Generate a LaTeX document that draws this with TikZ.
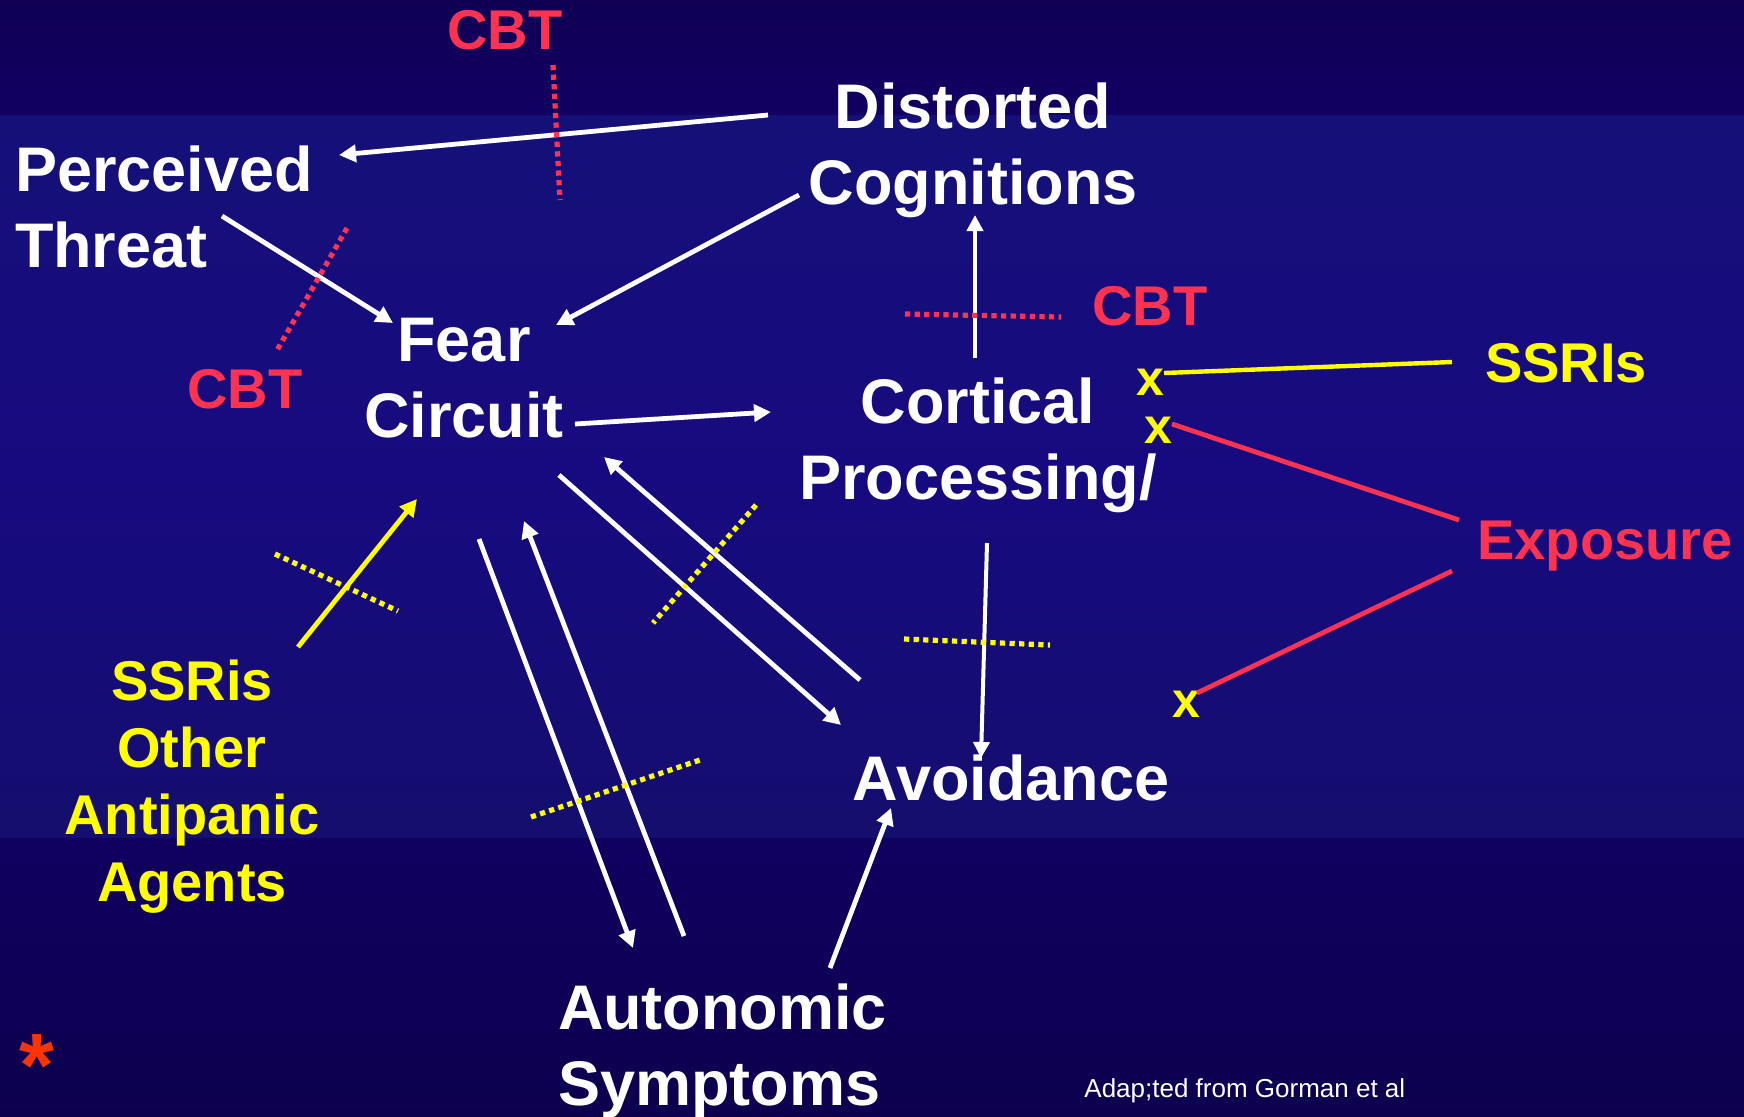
\documentclass[tikz,border=0pt]{standalone}
\usepackage{fontspec}
\setmainfont{Liberation Sans}
\usetikzlibrary{arrows.meta,calc}
\definecolor{bgA}{RGB}{15,0,84}
\definecolor{bgB}{RGB}{18,0,98}
\definecolor{bgC}{RGB}{21,16,120}
\definecolor{bgD}{RGB}{23,10,128}
\definecolor{bgE}{RGB}{20,14,110}
\definecolor{bgF}{RGB}{16,0,96}
\definecolor{bgG}{RGB}{12,0,78}
\definecolor{cbtred}{RGB}{255,51,80}
\definecolor{ssriyel}{RGB}{255,255,0}
\definecolor{starred}{RGB}{255,51,0}
\begin{document}
\begin{tikzpicture}[x=0.5pt,y=-0.5pt,
  wtext/.style={inner sep=0pt, outer sep=0pt, anchor=base, text=white,
    font=\bfseries\fontsize{31.5}{38}\selectfont, align=center},
  rtext/.style={inner sep=0pt, outer sep=0pt, anchor=base, text=cbtred,
    font=\bfseries\fontsize{28}{34}\selectfont},
  ytext/.style={inner sep=0pt, outer sep=0pt, anchor=base, text=ssriyel,
    font=\bfseries\fontsize{28}{33.5}\selectfont, align=center},
  xmark/.style={inner sep=0pt, outer sep=0pt, anchor=base, text=ssriyel,
    font=\bfseries\fontsize{25}{28}\selectfont},
  warrow/.style={draw=white, line width=2.4pt, -{Triangle[length=8.5pt,width=8.5pt]}},
  wthin/.style={draw=white, line width=2pt, -{Triangle[length=8pt,width=8pt]}},
  yarrow/.style={draw=ssriyel, line width=2.4pt, -{Triangle[length=8.5pt,width=8.5pt]}},
  rdots/.style={draw=cbtred, line width=2.6pt, dash pattern=on 2.6pt off 2.2pt},
  ydots/.style={draw=ssriyel, line width=2.6pt, dash pattern=on 2.6pt off 2.2pt},
  yline/.style={draw=ssriyel, line width=2.2pt},
  rline/.style={draw=cbtred, line width=2.4pt}]
\useasboundingbox (0,0) rectangle (1744,1116);
% background bands
\shade[top color=bgA, bottom color=bgB] (0,0) rectangle (1744,115);
\shade[top color=bgC, bottom color=bgE, middle color=bgD] (0,115) rectangle (1744,838);
\shade[top color=bgF, bottom color=bgG] (0,838) rectangle (1744,1116);

% nodes (base anchor of multi-line nodes = baseline of last line)
\node[rtext] (cbtTop) at (505,49) {CBT};
\node[wtext, align=left, anchor=base west] (perc) at (15,267) {Perceived\\Threat};
\node[rtext] (cbtL) at (245,408) {CBT};
\node[wtext] (fear) at (464,437) {Fear\\Circuit};
\node[wtext] (dist) at (973,204) {Distorted\\Cognitions};
\node[rtext] (cbtR) at (1150,325) {CBT};
\node[wtext] (cort) at (978,499) {Cortical\\Processing/};
\node[ytext] (ssriR) at (1566,382) {SSRIs};
\node[rtext] (expo) at (1605,559) {Exposure};
\node[xmark] (x1) at (1150,395) {x};
\node[xmark] (x2) at (1158,443) {x};
\node[xmark] (x3) at (1186,717) {x};
\node[ytext] (ssriL) at (192,901) {SSRis\\Other\\Antipanic\\Agents};
\node[wtext] (avoid) at (1011,800) {Avoidance};
\node[wtext, align=left, anchor=base west] (auto) at (558,1105) {Autonomic\\Symptoms};
\node[inner sep=0pt, anchor=base west, text=white, font=\fontsize{13}{15}\selectfont] (adapted) at (1084,1097) {Adap;ted from Gorman et al};
\node[inner sep=0pt, anchor=center, text=starred, font=\bfseries\fontsize{45}{54}\selectfont] (star) at (37,1066) {*};

% arrows
\draw[warrow] ($(dist.base)+(-205,-89)$) -- ($(perc.base west)+(324,-112)$);
\draw[warrow] ($(perc.base west)+(207,-51)$) -- ($(fear.base)+(-71,-114)$);
\draw[warrow] ($(dist.base)+(-174,-9)$) -- ($(fear.base)+(92,-112)$);
\draw[warrow] ($(fear.base)+(111,-13)$) -- ($(cort.base)+(-207,-87)$);
\draw[wthin] ($(cort.base)+(-3,-141)$) -- ($(dist.base)+(2,11)$);
\draw[wthin] ($(cort.base)+(9,44)$) -- ($(avoid.base)+(-30,-42)$);
\draw[warrow] ($(fear.base)+(95,38)$) -- ($(avoid.base)+(-170,-75)$);
\draw[warrow] ($(avoid.base)+(-151,-120)$) -- ($(fear.base)+(140,20)$);
\draw[warrow] ($(fear.base)+(15,102)$) -- ($(auto.base west)+(75,-157)$);
\draw[warrow] ($(auto.base west)+(126,-169)$) -- ($(fear.base)+(60,84)$);
\draw[warrow] ($(auto.base west)+(272,-137)$) -- ($(avoid.base)+(-120,8)$);
\draw[yarrow] ($(ssriL.base)+(106,-254)$) -- ($(fear.base)+(-47,62)$);

% solid treatment lines
\draw[yline] ($(x1.base)+(14,-22)$) -- ($(ssriR.base)+(-114,-20)$);
\draw[rline] ($(x2.base)+(14,-19)$) -- ($(expo.base)+(-146,-39)$);
\draw[rline] ($(x3.base)+(11,-24)$) -- ($(expo.base)+(-153,12)$);

% dotted blocking marks
\draw[rdots] (553,65) -- (560,200);
\draw[rdots] (347,228) -- (276,352);
\draw[rdots] (905,314) -- (1061,317);
\draw[ydots] (275,554) -- (398,611);
\draw[ydots] (756,505) -- (653,623);
\draw[ydots] (904,639) -- (1050,645);
\draw[ydots] (531,817) -- (700,760);
\end{tikzpicture}
\end{document}
